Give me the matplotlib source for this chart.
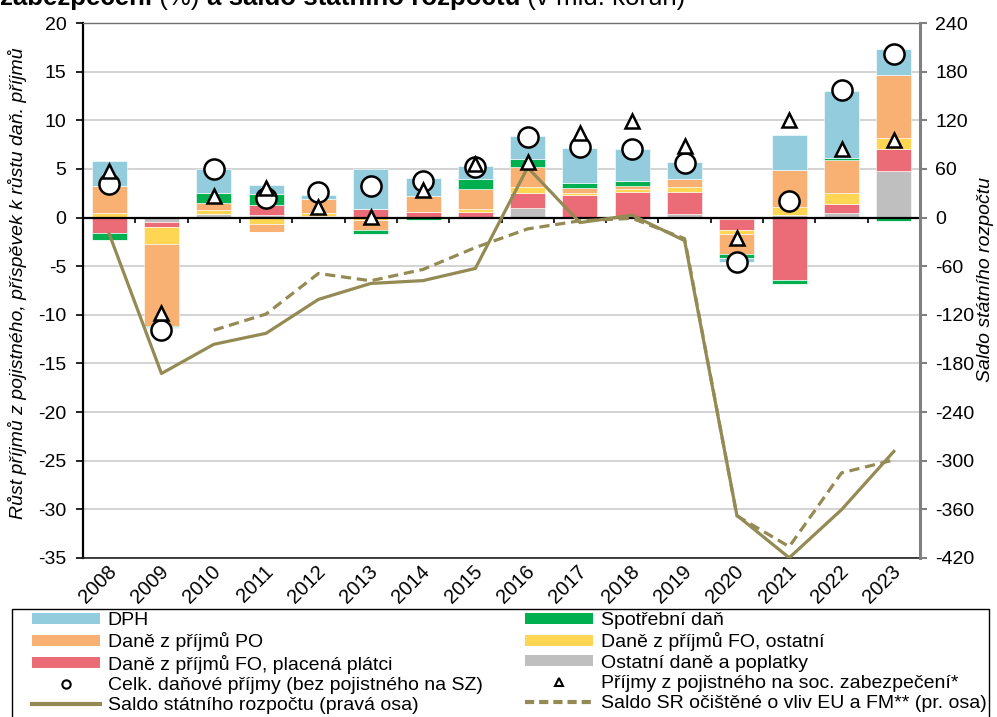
import numpy as np
import matplotlib
matplotlib.use("Agg")
import matplotlib.pyplot as plt
from matplotlib.patches import Patch, Rectangle
from matplotlib.lines import Line2D

plt.rcParams['font.family'] = ['Liberation Sans', 'DejaVu Sans']
plt.rcParams['axes.unicode_minus'] = False

years = [str(y) for y in range(2008, 2024)]

# contributions (percentage points)
dph        = [2.6, -0.15, 2.45, 0.9, 0.45, 4.1, 1.9, 1.3, 2.3, 3.6, 3.25, 1.75, -0.45, 3.6, 6.9, 2.65]
spotrebni  = [-0.75, -0.15, 1.1, 1.15, 0.0, -0.45, -0.3, 1.1, 0.9, 0.55, 0.5, 0.0, -0.45, -0.45, 0.2, -0.4]
dan_po     = [2.7, -8.4, 0.7, -0.8, 1.4, -0.95, 1.6, 2.0, 2.05, 0.5, 0.3, 0.9, -2.05, 3.75, 3.35, 6.55]
fo_ostatni = [0.5, -1.7, 0.4, -0.65, 0.3, -0.3, 0.0, 0.3, 0.55, 0.2, 0.3, 0.5, -0.35, 0.85, 1.15, 1.1]
fo_platci  = [-1.6, -0.5, 0.0, 1.0, 0.0, 0.85, 0.6, 0.6, 1.6, 2.25, 2.65, 2.2, -1.1, -6.4, 0.95, 2.25]
ostatni    = [0.0, -0.5, 0.35, 0.3, 0.2, 0.0, 0.0, 0.0, 0.95, 0.1, 0.0, 0.4, -0.2, 0.25, 0.45, 4.8]

celk_dan   = [3.4, -11.55, 5.0, 2.05, 2.6, 3.2, 3.75, 5.2, 8.3, 7.3, 7.0, 5.65, -4.6, 1.65, 13.1, 16.85]
pojistne   = [4.8, -9.8, 2.2, 3.0, 1.1, 0.1, 2.85, 5.55, 5.7, 8.65, 9.9, 7.35, -2.15, 10.05, 7.0, 8.0]

# state budget balance (bn CZK, right axis)
saldo       = [-20.0, -192.4, -156.4, -142.8, -101.0, -81.3, -77.8, -62.8, 61.8, -6.2, 2.9, -28.5, -367.4, -419.7, -360.4, -288.5]
saldo_ocist = [np.nan, np.nan, -139, -119, -69, -78, -64, -37, -14, -4, -1, -26, -368, -406, -315, -299]

series = [
    ("Ostatní daně a poplatky", ostatni, "#BFBFBF"),
    ("Daně z příjmů FO, placená plátci", fo_platci, "#EB6C76"),
    ("Daně z příjmů FO, ostatní", fo_ostatni, "#FFD654"),
    ("Daně z příjmů PO", dan_po, "#F8B173"),
    ("Spotřební daň", spotrebni, "#00B050"),
    ("DPH", dph, "#93CDDD"),
]

W, H = 997, 717
fig = plt.figure(figsize=(W / 100, H / 100), dpi=100)
ax = fig.add_axes([83 / W, 1 - 558 / H, (920 - 83) / W, (558 - 23) / H])

x = np.arange(len(years))
pos_base = np.zeros(len(years))
neg_base = np.zeros(len(years))
for name, vals, col in series:
    v = np.array(vals, dtype=float)
    p = np.where(v > 0, v, 0)
    n = np.where(v < 0, v, 0)
    ax.bar(x, p, 0.67, bottom=pos_base, color=col, edgecolor='white', linewidth=0.4, zorder=2)
    ax.bar(x, n, 0.67, bottom=neg_base, color=col, edgecolor='white', linewidth=0.4, zorder=2)
    pos_base += p
    neg_base += n

ax.set_xlim(-0.5, len(years) - 0.5)
ax.set_ylim(-35, 20)
ax.set_yticks(np.arange(-35, 21, 5))
ax.yaxis.grid(True, color='#C8C8C8', linewidth=1.1, zorder=0)
ax.set_axisbelow(True)
ax.axhline(0, color='black', linewidth=1.6, zorder=3)
for b in np.arange(0.5, len(years) - 1, 1.0):
    ax.plot([b, b], [0, -0.6], color='black', linewidth=1.2, zorder=3, solid_capstyle='butt')
ax.set_xticks([])
ax.tick_params(axis='y', length=5, width=1.2, pad=7, labelsize=14, color='black')
ax.spines['top'].set_color('#707070')
ax.spines['top'].set_linewidth(1.0)
ax.spines['bottom'].set_color('#202020')
ax.spines['bottom'].set_linewidth(1.2)
ax.spines['left'].set_linewidth(1.6)
ax.spines['right'].set_visible(False)

for i, yl in enumerate(years):
    ax.text(i - 0.05, -35.4, yl, rotation=45, ha='right', va='top',
            rotation_mode='anchor', fontsize=14.5)

ax2 = ax.twinx()
ax2.set_ylim(-420, 240)
ax2.set_yticks(np.arange(-420, 241, 60))
ax2.plot(x, saldo, color='#948A54', linewidth=2.3, zorder=4)
ax2.plot(x, saldo_ocist, color='#948A54', linewidth=2.3, linestyle=(0, (3.2, 1.8)), zorder=4)
ax2.tick_params(axis='y', length=5, width=1.5, pad=6, labelsize=14, color='#808080')
ax2.spines['right'].set_color('#808080')
ax2.spines['right'].set_linewidth(2.2)
for s in ['top', 'bottom', 'left']:
    ax2.spines[s].set_visible(False)

ax3 = fig.add_axes(ax.get_position(), sharex=ax, sharey=ax)
ax3.set_axis_off()
ax3.plot(x, celk_dan, linestyle='none', marker='o', markersize=14.5, markerfacecolor='white',
         markeredgecolor='black', markeredgewidth=1.8)
ax3.plot(x, pojistne, linestyle='none', marker='^', markersize=10.5, markerfacecolor='white',
         markeredgecolor='black', markeredgewidth=1.8)

fig.text(18 / W, 1 - 283 / H, "Růst příjmů z pojistného, příspěvek k růstu daň. příjmů",
         rotation=90, ha='center', va='center', fontsize=14, style='italic')
fig.text(985 / W, 1 - 280 / H, "Saldo státního rozpočtu",
         rotation=90, ha='center', va='center', fontsize=14, style='italic')

# title (partially cut at top, as in the reference)
renderer = fig.canvas.get_renderer()
parts = [("zabezpečení", 'bold'), (" (%) ", 'normal'), ("a saldo státního rozpočtu", 'bold'),
         (" (v mld. korun)", 'normal')]
xp = 0.0
for txt, wt in parts:
    t = fig.text(xp / W, 1 - 5 / H, txt, fontsize=18.6, weight=wt, ha='left', va='baseline')
    bb = t.get_window_extent(renderer)
    xp = bb.x1

# legend
def P(c):
    return Patch(facecolor=c, edgecolor='none')

handles = [
    P("#93CDDD"), P("#F8B173"), P("#EB6C76"),
    Line2D([], [], linestyle='none', marker='o', markersize=6, markerfacecolor='white',
           markeredgecolor='black', markeredgewidth=1.5),
    Line2D([], [], color='#948A54', linewidth=3),
    P("#00B050"), P("#FFD654"), P("#BFBFBF"),
    Line2D([], [], linestyle='none', marker='^', markersize=6, markerfacecolor='white',
           markeredgecolor='black', markeredgewidth=1.5),
    Line2D([], [], color='#948A54', linewidth=3, linestyle=(0, (2.2, 1.2))),
]
labels = [
    "DPH", "Daně z příjmů PO", "Daně z příjmů FO, placená plátci",
    "Celk. daňové příjmy (bez pojistného na SZ)", "Saldo státního rozpočtu (pravá osa)",
    "Spotřební daň", "Daně z příjmů FO, ostatní", "Ostatní daně a poplatky",
    "Příjmy z pojistného na soc. zabezpečení*", "Saldo SR očištěné o vliv EU a FM** (pr. osa)",
]
leg = fig.legend(handles, labels, ncol=2, loc='upper left',
                 bbox_to_anchor=(32 / W, 1 - 612 / H, (987 - 32) / W, 0), mode='expand',
                 frameon=False, fontsize=14, borderpad=0, borderaxespad=0,
                 handlelength=3.5, handleheight=0.5, handletextpad=0.4,
                 labelspacing=0.17, columnspacing=1.0)
fig.patches.append(Rectangle((12 / W, -0.05), (989 - 12) / W, 0.05 + (717 - 609) / H,
                             transform=fig.transFigure, fill=False, edgecolor='black',
                             linewidth=1.0))

fig.savefig("out.png", dpi=100)
